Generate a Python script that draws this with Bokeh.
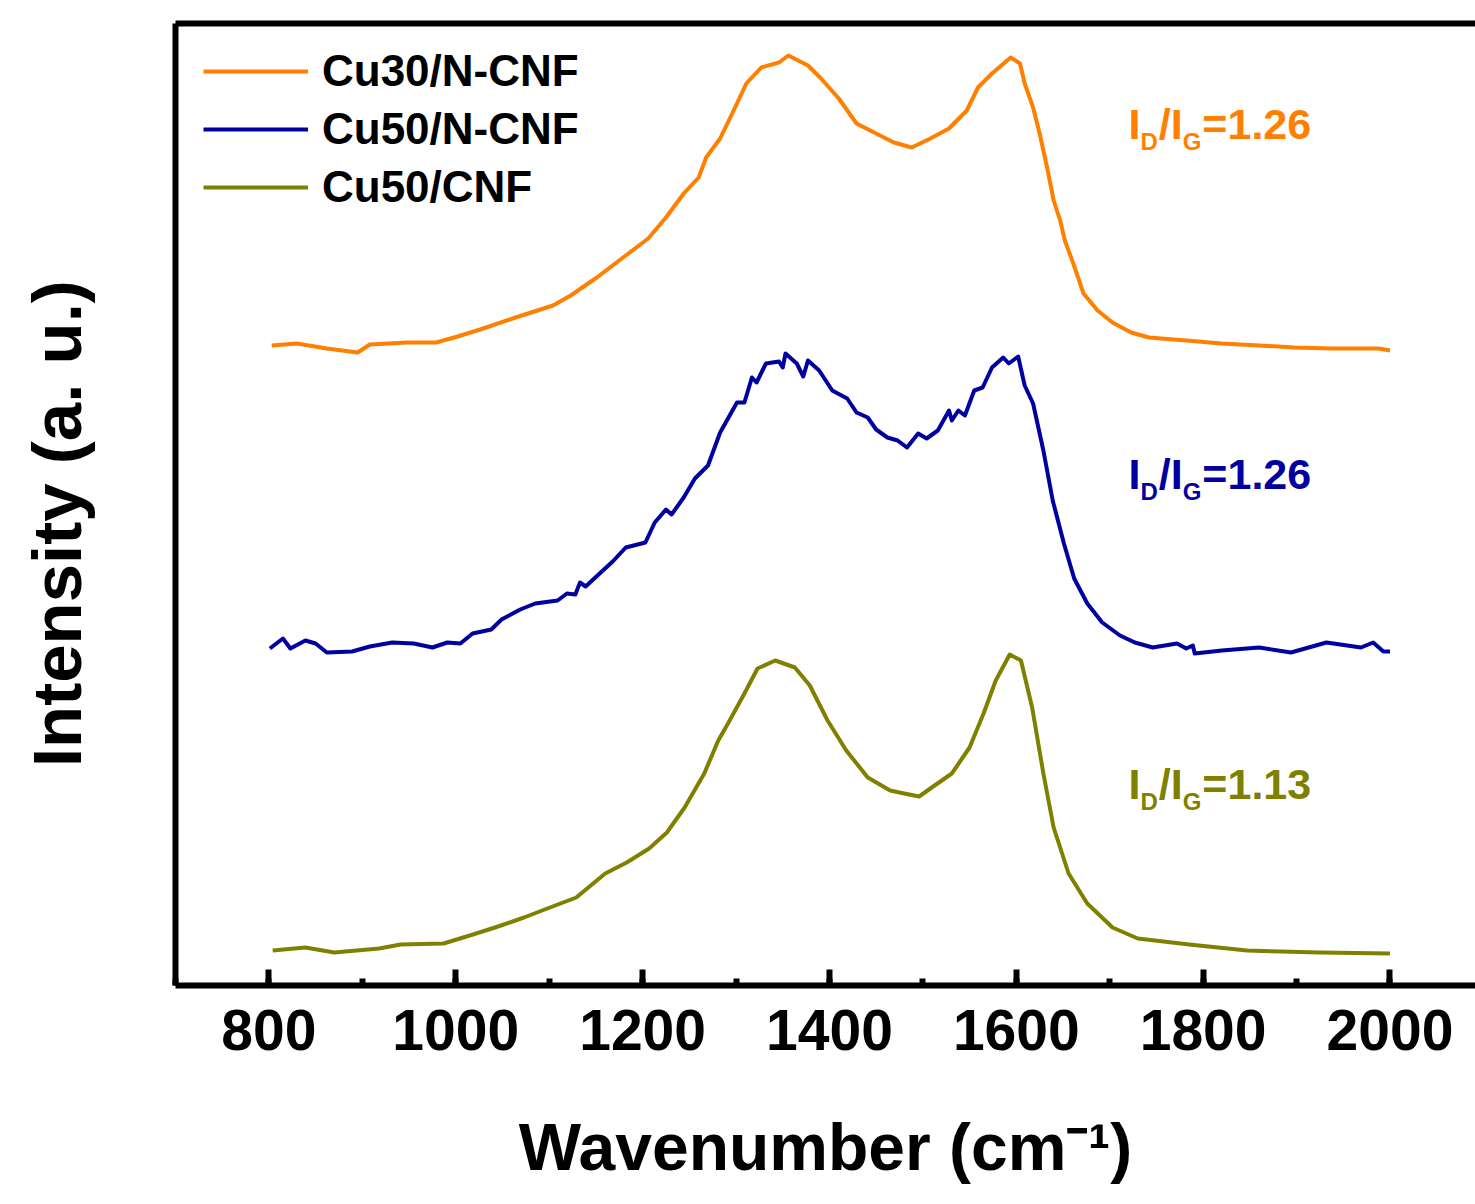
import math
from bokeh.plotting import figure
from bokeh.models import (Range1d, LinearAxis, SingleIntervalTicker, FixedTicker,
                          Label, Legend, LegendItem)
from bokeh.embed import file_html
from bokeh.resources import INLINE

# ---------------- data ----------------
series_names = ["Cu30/N-CNF", "Cu50/N-CNF", "Cu50/CNF"]
series_colors = ["#FF8000", "#0000A0", "#808000"]
ratio_labels = ["1.26", "1.26", "1.13"]

cu30_wn = [803, 830, 862, 895, 908, 948, 979, 1002, 1026, 1064, 1104, 1123, 1151, 1182,
           1206, 1225, 1244, 1260, 1268, 1283, 1299, 1311, 1327, 1346, 1356, 1377, 1391,
           1410, 1429, 1450, 1469, 1488, 1508, 1528, 1547, 1559, 1574, 1594, 1604, 1609,
           1618, 1625, 1633, 1640, 1647, 1652, 1661, 1672, 1687, 1703, 1723, 1742, 1782,
           1820, 1860, 1898, 1938, 1988, 2000]
cu30_int = [640, 642, 637, 633, 641, 643, 643, 649, 656, 668, 680, 690, 708, 730,
            747, 768, 792, 808, 828, 847, 878, 902, 918, 923, 930, 920, 907,
            887, 862, 852, 843, 838, 847, 857, 875, 898, 912, 928, 922, 902,
            878, 852, 818, 785, 765, 745, 722, 692, 675, 663, 653, 648, 645,
            642, 640, 638, 637, 637, 635]

cu50n_wn = [801, 815, 823, 839, 850, 862, 889, 908, 932, 955, 975, 991, 1005, 1018, 1038,
            1049, 1069, 1085, 1109, 1119, 1128, 1133, 1139, 1154, 1168, 1182, 1203, 1213,
            1225, 1231, 1244, 1256, 1270, 1283, 1301, 1309, 1317, 1322, 1332, 1346, 1350,
            1353, 1365, 1372, 1377, 1389, 1403, 1419, 1429, 1441, 1450, 1462, 1473, 1483,
            1495, 1504, 1516, 1528, 1531, 1538, 1545, 1555, 1564, 1574, 1586, 1592, 1602,
            1609, 1618, 1629, 1639, 1651, 1662, 1676, 1692, 1711, 1727, 1746, 1772, 1782,
            1789, 1791, 1820, 1860, 1894, 1932, 1969, 1982, 1993, 2000]
cu50n_int = [337, 347, 337, 345, 342, 333, 334, 339, 343, 342, 338, 343, 342, 352, 356,
             366, 376, 382, 385, 392, 391, 403, 399, 412, 424, 438, 443, 463,
             476, 471, 488, 507, 520, 553, 583, 583, 608, 603, 622, 624, 618,
             632, 622, 609, 625, 615, 595, 587, 573, 568, 556, 548, 545, 538,
             552, 547, 555, 575, 565, 575, 570, 595, 598, 618, 628, 622, 629,
             600, 582, 535, 485, 442, 407, 382, 363, 350, 343, 338, 342, 337,
             340, 332, 335, 338, 333, 343, 338, 343, 334, 334]

cu50_wn = [804, 839, 870, 918, 941, 987, 1015, 1042, 1073, 1098, 1129, 1160, 1183, 1207,
           1226, 1245, 1266, 1281, 1292, 1309, 1323, 1342, 1363, 1379, 1398, 1418, 1441,
           1465, 1480, 1496, 1508, 1531, 1550, 1565, 1578, 1593, 1605, 1617, 1629, 1640,
           1656, 1676, 1703, 1730, 1785, 1847, 1925, 2000]
cu50_int = [35, 38, 33, 37, 41, 42, 50, 58, 68, 77, 88, 112, 123, 137,
            153, 178, 212, 245, 263, 292, 317, 325, 318, 300, 265, 235, 208,
            195, 192, 189, 197, 212, 238, 272, 305, 331, 325, 278, 212, 158,
            112, 82, 58, 47, 41, 35, 33, 32]

x_tick_interval = 200
x_title = "Wavenumber (cm\u207b\u00b9)"
y_title = "Intensity (a. u.)"

# ---------------- layout constants ----------------
W, H = 1475, 1204
FL, FT, FB = 175, 23, 985          # frame left / top / bottom in page pixels
FONT = "Liberation Sans"

p = figure(width=W, height=H, output_backend="svg", toolbar_location=None,
           x_range=Range1d(700, 700 + (W - FL) / 0.9342), y_range=Range1d(0, FB - FT),
           x_axis_type=None, y_axis_type=None,
           min_border_left=FL, min_border_right=0, min_border_top=FT,
           min_border_bottom=H - FB)
p.outline_line_color = None
p.background_fill_color = "white"
p.border_fill_color = "white"

# bottom axis with inward ticks
xa = LinearAxis(ticker=SingleIntervalTicker(interval=x_tick_interval, num_minor_ticks=2))
xa.axis_line_width = 6
xa.axis_line_color = "black"
xa.major_tick_in = 16
xa.major_tick_out = 0
xa.minor_tick_in = 7
xa.minor_tick_out = 0
xa.major_tick_line_width = 6
xa.minor_tick_line_width = 6
xa.major_label_text_font = FONT
xa.major_label_text_font_style = "bold"
xa.major_label_text_font_size = "57px"
xa.major_label_text_color = "black"
xa.major_label_standoff = 24
xa.axis_label = x_title
xa.axis_label_text_font = FONT
xa.axis_label_text_font_style = "bold"
xa.axis_label_text_font_size = "66px"
xa.axis_label_text_color = "black"
xa.axis_label_standoff = 57
p.add_layout(xa, "below")

for loc in ("left", "above"):
    ax = LinearAxis(ticker=FixedTicker(ticks=[]))
    ax.axis_line_width = 6
    ax.axis_line_color = "black"
    ax.major_tick_in = 0
    ax.major_tick_out = 0
    ax.minor_tick_in = 0
    ax.minor_tick_out = 0
    ax.major_label_text_font_size = "0px"
    if loc == "left":
        ax.axis_label = y_title + "\u00a0\u00a0"
        ax.axis_label_text_font = FONT
        ax.axis_label_text_font_style = "bold"
        ax.axis_label_text_font_size = "69px"
        ax.axis_label_text_color = "black"
        ax.axis_label_standoff = 80
    p.add_layout(ax, loc)

renderers = []
for wn, inten, col in zip([cu30_wn, cu50n_wn, cu50_wn], [cu30_int, cu50n_int, cu50_int],
                          series_colors):
    r = p.line(wn, inten, line_color=col, line_width=4, line_join="round")
    renderers.append(r)

legend = Legend(items=[LegendItem(label=n, renderers=[r]) for n, r in zip(series_names, renderers)],
                location=(203 - FL, FB - (71 - 29 + 3 * 58)))
legend.label_text_font = FONT
legend.label_text_font_style = "bold"
legend.label_text_font_size = "44px"
legend.label_text_color = "black"
legend.glyph_width = 105
legend.glyph_height = 58
legend.label_height = 58
legend.label_standoff = 14
legend.spacing = 0
legend.padding = 0
legend.margin = 0
legend.border_line_color = None
legend.background_fill_alpha = 0
p.add_layout(legend)


def add_text(text, xpx, ypx, size, color):
    p.add_layout(Label(x=xpx - FL, y=FB - ypx, x_units="screen", y_units="screen", text=text,
                       text_font=FONT, text_font_style="bold", text_font_size=f"{size}px",
                       text_color=color, text_align="left", text_baseline="alphabetic"))


# I_D/I_G annotations
adv = {"I": .278, "/": .278, "=": .584, ".": .278, "D": .722, "G": .778}
for ratio, col, base in zip(ratio_labels, series_colors, [123, 473, 783]):
    big, small = 43, 24
    x = 1128
    pieces = [("I", big, 0), ("D", small, 18), ("/I", big, 0), ("G", small, 18), ("=" + ratio, big, 0)]
    for txt, size, drop in pieces:
        add_text(txt, x, base + drop, size, col)
        x += sum(adv.get(c, .556) for c in txt) * size + (1 if size == small else 0)

open("out.html", "w").write(file_html(p, INLINE))
